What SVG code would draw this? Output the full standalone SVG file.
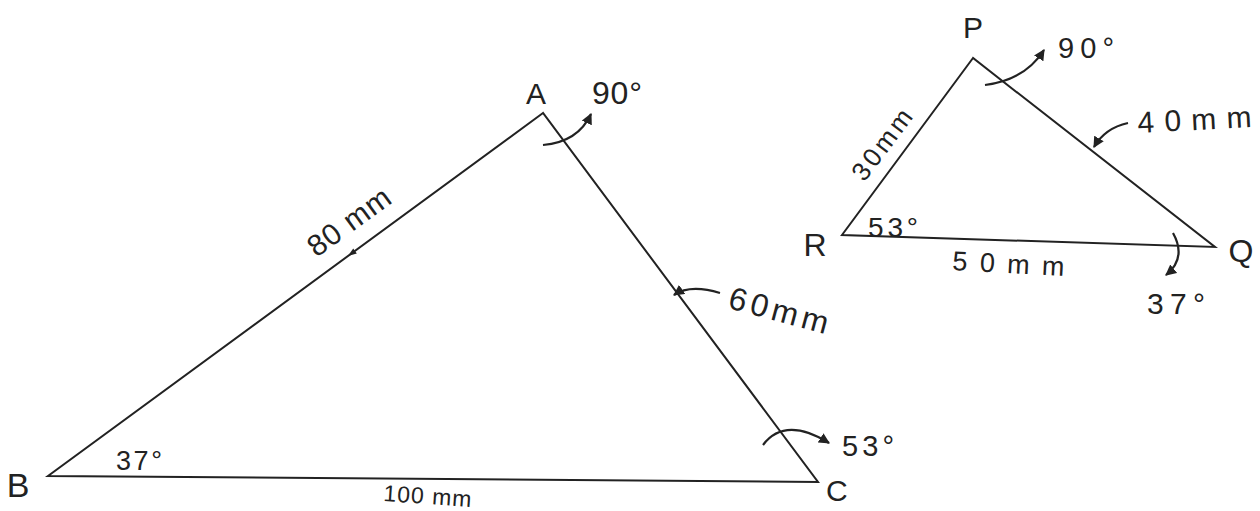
<svg xmlns="http://www.w3.org/2000/svg" width="1260" height="511" viewBox="0 0 1260 511">
<defs>
<marker id="ah" viewBox="0 0 10 10" refX="9" refY="5" markerWidth="5" markerHeight="5" orient="auto" markerUnits="strokeWidth">
<path d="M0,0 L10,5 L0,10 z" fill="#222"/>
</marker>
<style>
.edge{fill:none;stroke:#222;stroke-width:2;stroke-linejoin:miter}
.arr{fill:none;stroke:#222;stroke-width:2.2;marker-end:url(#ah)}
text{font-family:"Liberation Sans","DejaVu Sans",sans-serif;fill:#222}
</style>
</defs>
<rect width="1260" height="511" fill="#fff"/>
<g id="triangle-ABC">
<polygon class="edge" points="543,113 48,476 818,482"/>
<polygon points="348,256 356.8,253.4 353.2,248.6" fill="#222"/>
</g>
<g id="triangle-PQR">
<polygon class="edge" points="973,58 842,235 1215,247"/>
</g>
<g id="connectors">
<path class="arr" d="M543,145 Q578,142 591,114"/>
<path class="arr" d="M720,293 Q690,284 674,295"/>
<path class="arr" d="M763,445 Q785,416 829,443"/>
<path class="arr" d="M985,85 Q1025,80 1044,50"/>
<path class="arr" d="M1128,123 Q1105,128 1094,147"/>
<path class="arr" d="M1173,233 Q1187,258 1166,275"/>
</g>
<g id="labels-ABC">
<text x="536" y="104" text-anchor="middle" font-size="30">A</text>
<text x="592" y="104" font-size="32" textLength="50">90°</text>
<text x="18" y="497" text-anchor="middle" font-size="34">B</text>
<text x="116" y="470" font-size="27" textLength="46">37°</text>
<text x="355" y="230" text-anchor="middle" font-size="30" transform="rotate(-36 355 230)" textLength="95">80 mm</text>
<text x="776" y="321" text-anchor="middle" font-size="32" transform="rotate(15 776 321)" textLength="102">60mm</text>
<text x="842" y="456" font-size="29" textLength="52">53°</text>
<text x="826" y="501" font-size="30">C</text>
<text x="427" y="504" text-anchor="middle" font-size="23" transform="rotate(4 427 504)" textLength="88">100 mm</text>
</g>
<g id="labels-PQR">
<text x="973" y="38" text-anchor="middle" font-size="30">P</text>
<text x="1058" y="58" font-size="29" textLength="56">90°</text>
<text x="1195" y="130" text-anchor="middle" font-size="30" transform="rotate(-3 1195 130)" textLength="114">40mm</text>
<text x="889" y="150" text-anchor="middle" font-size="26" transform="rotate(-53 889 150)" textLength="82">30mm</text>
<text x="868" y="237" font-size="28" textLength="50">53°</text>
<text x="815" y="256" text-anchor="middle" font-size="32">R</text>
<text x="1008" y="273" text-anchor="middle" font-size="27" transform="rotate(3 1008 273)" textLength="112">50mm</text>
<text x="1241" y="262" text-anchor="middle" font-size="32">Q</text>
<text x="1147" y="314" font-size="30" textLength="58">37°</text>
</g>
</svg>
